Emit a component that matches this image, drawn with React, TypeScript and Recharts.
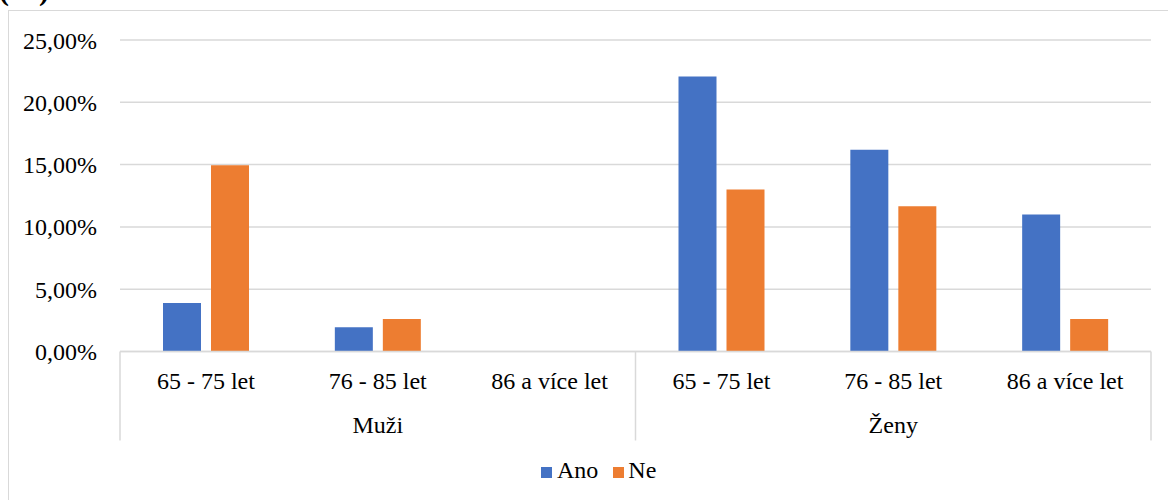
import { BarChart, Bar, XAxis, YAxis, CartesianGrid, Legend } from 'recharts'

const ageGroups = ['65 - 75 let', '76 - 85 let', '86 a více let', '65 - 75 let', '76 - 85 let', '86 a více let']
const sexes = ['Muži', 'Muži', 'Muži', 'Ženy', 'Ženy', 'Ženy']
const ano = [3.9, 1.95, 0, 22.08, 16.2, 11.0]
const ne = [14.94, 2.6, 0, 13.0, 11.66, 2.6]
const yTicks = [0, 5, 10, 15, 20, 25]

const data = ageGroups.map((age, i) => ({ key: i, age, sex: sexes[i], Ano: ano[i], Ne: ne[i] }))

const FONT = 'Liberation Serif'
const GRID = '#d9d9d9'
const BLUE = '#4472C4'
const ORANGE = '#ED7D31'

const fmtPct = (v: number) => v.toFixed(2).replace('.', ',') + '%'

// two-level category axis: age label, sex label under the middle age, dividers between sexes
function AgeSexTick(props: any) {
  const { x, y, index, payload } = props
  const half = payload?.offset ?? 0
  const axisY = y - 8
  const i = index as number
  const isFirstOfGroup = i === 0 || sexes[i] !== sexes[i - 1]
  const isLast = i === ageGroups.length - 1
  const isMiddle = i % 3 === 1
  return (
    <g>
      <text x={x} y={axisY + 37} textAnchor="middle" fontFamily={FONT} fontSize={24} fill="#000">
        {ageGroups[i]}
      </text>
      {isMiddle && (
        <text x={x} y={axisY + 81} textAnchor="middle" fontFamily={FONT} fontSize={24} fill="#000">
          {sexes[i]}
        </text>
      )}
      {isFirstOfGroup && <line x1={x - half} x2={x - half} y1={axisY} y2={axisY + 89} stroke={GRID} strokeWidth={1.5} />}
      {isLast && <line x1={x + half} x2={x + half} y1={axisY} y2={axisY + 89} stroke={GRID} strokeWidth={1.5} />}
    </g>
  )
}

function LegendContent() {
  const items = [
    { name: 'Ano', color: BLUE },
    { name: 'Ne', color: ORANGE },
  ]
  return (
    <div style={{ fontFamily: FONT, fontSize: 24, lineHeight: '28px', whiteSpace: 'nowrap', color: '#000' }}>
      {items.map((it, i) => (
        <span key={it.name} style={{ marginLeft: i === 0 ? 0 : 15 }}>
          <span style={{ display: 'inline-block', width: 11, height: 11, background: it.color, marginRight: i === 0 ? 5 : 4 }} />
          {it.name}
        </span>
      ))}
    </div>
  )
}

export default function App() {
  return (
    <div style={{ position: 'absolute', left: 0, top: 0, width: 1168, height: 500, overflow: 'hidden', background: '#fff' }}>
      <div style={{ position: 'absolute', left: -1, top: -25, fontFamily: FONT, fontWeight: 'bold', fontSize: 30, lineHeight: '30px' }}>(%)</div>
      <div style={{ position: 'absolute', left: 8, top: 10, width: 1200, height: 600, border: `1.5px solid ${GRID}` }} />
      <div style={{ position: 'absolute', left: 0, top: 0 }}>
        <BarChart width={1168} height={500} data={data} margin={{ top: 40, right: 17, left: 0, bottom: 48.5 }} barSize={38} barGap={10}>
          <CartesianGrid vertical={false} stroke={GRID} strokeWidth={1.5} />
          <XAxis
            dataKey="key"
            height={100}
            axisLine={{ stroke: GRID, strokeWidth: 1.5 }}
            tickLine={false}
            interval={0}
            tick={<AgeSexTick />}
          />
          <YAxis
            width={120}
            domain={[0, 25]}
            ticks={yTicks}
            tickFormatter={fmtPct}
            axisLine={false}
            tickLine={false}
            tickMargin={17}
            tick={{ fontFamily: FONT, fontSize: 24, fill: '#000' }}
          />
          <Legend
            verticalAlign="middle"
            align="center"
            layout="horizontal"
            wrapperStyle={{ left: 541, top: 455.6, width: 'auto', bottom: 'auto' }}
            content={<LegendContent />}
          />
          <Bar dataKey="Ano" fill={BLUE} isAnimationActive={false} />
          <Bar dataKey="Ne" fill={ORANGE} isAnimationActive={false} />
        </BarChart>
      </div>
    </div>
  )
}
